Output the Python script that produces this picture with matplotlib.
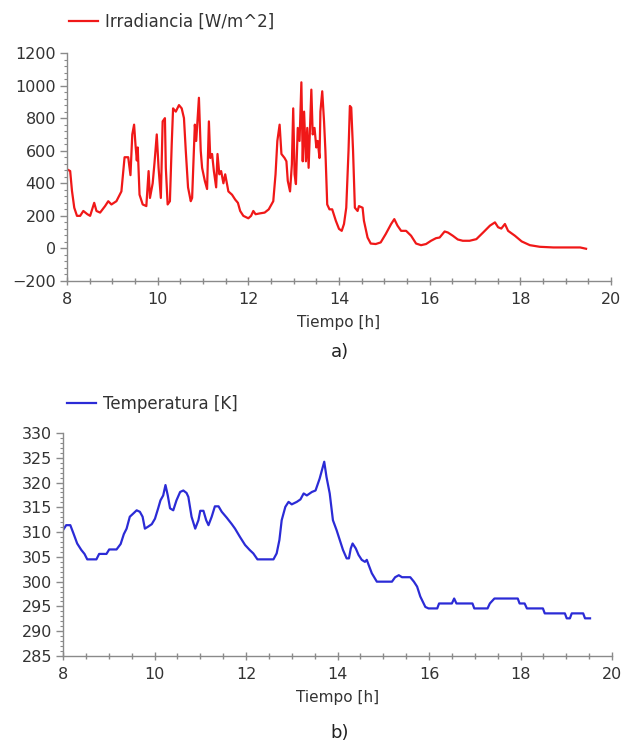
import matplotlib
matplotlib.use("Agg")
import matplotlib.pyplot as plt
from matplotlib.ticker import MultipleLocator

# ---- data ----
irr_t = [8.0, 8.07, 8.11, 8.16, 8.22, 8.29, 8.36, 8.45, 8.51, 8.6, 8.65, 8.73, 8.84, 8.91, 8.98,
         9.09, 9.2, 9.27, 9.35, 9.4, 9.44, 9.48, 9.51, 9.54, 9.56, 9.6, 9.67, 9.75, 9.8, 9.83,
         9.89, 9.93, 9.98, 10.02, 10.07, 10.11, 10.16, 10.18, 10.22, 10.27, 10.31, 10.34, 10.4,
         10.47, 10.53, 10.58, 10.62, 10.67, 10.73, 10.76, 10.82, 10.85, 10.91, 10.95, 10.98,
         11.04, 11.09, 11.13, 11.16, 11.2, 11.24, 11.29, 11.32, 11.36, 11.4, 11.45, 11.49,
         11.56, 11.64, 11.71, 11.77, 11.82, 11.89, 12.0, 12.06, 12.11, 12.16, 12.25, 12.36,
         12.45, 12.55, 12.6, 12.64, 12.69, 12.73, 12.8, 12.84, 12.87, 12.92, 12.96, 12.99,
         13.02, 13.05, 13.09, 13.13, 13.17, 13.2, 13.23, 13.27, 13.3, 13.33, 13.39, 13.42,
         13.46, 13.5, 13.53, 13.57, 13.59, 13.63, 13.67, 13.7, 13.74, 13.79, 13.85, 13.93,
         14.0, 14.06, 14.11, 14.16, 14.21, 14.24, 14.27, 14.31, 14.35, 14.41, 14.44, 14.52,
         14.55, 14.63, 14.7, 14.81, 14.92, 15.03, 15.15, 15.22, 15.29, 15.37, 15.48, 15.59,
         15.7, 15.81, 15.92, 16.03, 16.14, 16.22, 16.33, 16.4, 16.51, 16.62, 16.73, 16.88,
         17.03, 17.18, 17.33, 17.44, 17.51, 17.58, 17.66, 17.73, 17.88, 18.03, 18.21, 18.43,
         18.73, 19.02, 19.32, 19.45]
irr_v = [486, 475, 353, 250, 200, 200, 230, 210, 200, 280, 230, 220, 260, 290, 270,
         290, 350, 560, 560, 450, 700, 760, 640, 540, 620, 330, 270, 260, 475, 310,
         400, 525, 700, 495, 310, 780, 800, 495, 270, 290, 640, 860, 840,
         880, 860, 800, 600, 375, 290, 310, 760, 660, 925, 600, 495,
         415, 365, 780, 555, 580, 475, 375, 580, 455, 475, 400, 455,
         350, 330, 300, 280, 230, 200, 185, 200, 230, 210, 215, 220,
         240, 290, 455, 660, 760, 580, 555, 535, 415, 350, 515, 860,
         455, 395, 740, 660, 1020, 535, 840, 535, 740, 495, 975, 700,
         740, 620, 660, 555, 840, 965, 780, 600, 270, 240, 240, 170,
         120, 108, 150, 250, 600, 875, 865, 600, 250, 230, 260, 250,
         170, 67, 30, 27, 37, 88, 150, 180, 140, 108, 108, 78,
         30, 20, 27, 47, 63, 67, 104, 98, 78, 55, 47, 47,
         57, 98, 140, 160, 130, 122, 150, 108, 78, 43, 20, 10,
         6, 6, 6, -2]

temp_t = [8.0, 8.07, 8.16, 8.23, 8.31, 8.4, 8.47, 8.53, 8.73, 8.79, 8.95, 9.01, 9.17, 9.26,
          9.33, 9.39, 9.46, 9.53, 9.61, 9.68, 9.74, 9.79, 9.86, 9.94, 10.01, 10.08, 10.13,
          10.19, 10.24, 10.29, 10.34, 10.41, 10.48, 10.56, 10.63, 10.7, 10.74, 10.81, 10.89,
          10.96, 11.0, 11.07, 11.13, 11.18, 11.25, 11.32, 11.4, 11.47, 11.58, 11.69, 11.76,
          11.87, 11.98, 12.08, 12.16, 12.25, 12.6, 12.67, 12.73, 12.78, 12.86, 12.93, 13.0,
          13.11, 13.19, 13.26, 13.33, 13.44, 13.52, 13.61, 13.66, 13.71, 13.76, 13.83, 13.9,
          13.98, 14.05, 14.12, 14.2, 14.25, 14.29, 14.33, 14.4, 14.46, 14.53, 14.6, 14.64,
          14.68, 14.75, 14.86, 15.19, 15.26, 15.34, 15.41, 15.59, 15.67, 15.74, 15.81, 15.92,
          15.99, 16.18, 16.22, 16.5, 16.55, 16.6, 16.95, 16.99, 17.28, 17.33, 17.43, 17.94,
          17.98, 18.09, 18.14, 18.49, 18.53, 18.97, 19.01, 19.08, 19.12, 19.37, 19.41, 19.52]
temp_v = [310.4, 311.4, 311.4, 309.7, 307.7, 306.4, 305.6, 304.5, 304.5, 305.6, 305.6, 306.5,
          306.5, 307.6, 309.6, 310.7, 313.1, 313.7, 314.4, 314.1, 313.1, 310.7, 311.1, 311.6,
          312.7, 314.8, 316.4, 317.4, 319.5, 317.4, 314.8, 314.4, 316.4, 318.1, 318.4, 317.9,
          317.1, 313.1, 310.7, 312.4, 314.3, 314.3, 312.4, 311.4, 313.1, 315.2, 315.2, 314.1,
          312.9, 311.6, 310.7, 309.0, 307.4, 306.4, 305.7, 304.5, 304.5, 305.7, 308.4, 312.4,
          315.1, 316.1, 315.6, 316.1, 316.6, 317.8, 317.4, 318.1, 318.4, 320.8, 322.5, 324.2,
          321.1, 317.8, 312.4, 310.4, 308.4, 306.4, 304.7, 304.7, 306.7, 307.7, 306.7, 305.4,
          304.4, 304.0, 304.4, 303.4, 301.7, 300.0, 300.0, 300.9, 301.3, 300.9, 300.9, 300.0,
          299.0, 297.0, 294.9, 294.6, 294.6, 295.6, 295.6, 296.6, 295.6, 295.6, 294.6, 294.6,
          295.6, 296.6, 296.6, 295.6, 295.6, 294.6, 294.6, 293.6, 293.6, 292.6, 292.6, 293.6,
          293.6, 292.6, 292.6]

irr_label = "Irradiancia [W/m^2]"
temp_label = "Temperatura [K]"
xlabel = "Tiempo [h]"
irr_yticks = [-200, 0, 200, 400, 600, 800, 1000, 1200]
temp_yticks = [285, 290, 295, 300, 305, 310, 315, 320, 325, 330]
xticks = [8, 10, 12, 14, 16, 18, 20]

# ---- styling ----
plt.rcParams['font.family'] = ['DejaVu Sans']
W, H = 623, 749
fig = plt.figure(figsize=(W / 100, H / 100), dpi=100)
txt = '#333333'
spine_c = '#8a8a8a'

def style(ax, ymin, ymax, yminor):
    ax.set_xlim(8, 20)
    ax.set_ylim(ymin, ymax)
    for s in ('top', 'right'):
        ax.spines[s].set_visible(False)
    for s in ('left', 'bottom'):
        ax.spines[s].set_color(spine_c)
        ax.spines[s].set_linewidth(1.0)
    ax.set_xticks(xticks)
    ax.xaxis.set_minor_locator(MultipleLocator(0.5))
    ax.yaxis.set_minor_locator(MultipleLocator(yminor))
    ax.tick_params(axis='x', which='major', direction='inout', length=6, width=1,
                   color=spine_c, labelsize=11.5, labelcolor=txt, pad=5)
    ax.tick_params(axis='x', which='minor', direction='inout', length=5, width=1,
                   color=spine_c)
    ax.tick_params(axis='y', which='major', direction='out', length=5, width=1,
                   color=spine_c, labelsize=11.5, labelcolor=txt, pad=3)
    ax.tick_params(axis='y', which='minor', direction='out', length=2.5, width=0.8,
                   color=spine_c)
    ax.set_xlabel(xlabel, fontsize=11, color=txt, labelpad=6)

ax1 = fig.add_axes([67 / W, 1 - 281 / H, (611 - 67) / W, (281 - 53) / H])
ax1.plot(irr_t, irr_v, color='#f01818', lw=1.6, label=irr_label)
style(ax1, -200, 1200, 40)
ax1.set_yticks(irr_yticks)
ax1.legend(loc='center left', bbox_to_anchor=(0.004, 1.136), frameon=False,
           fontsize=12, handlelength=1.75, handletextpad=0.4, borderpad=0,
           borderaxespad=0, labelcolor=txt)

ax2 = fig.add_axes([63 / W, 1 - 656 / H, (612 - 63) / W, (656 - 433) / H])
ax2.plot(temp_t, temp_v, color='#2b2bd6', lw=1.6, label=temp_label)
style(ax2, 285, 330, 1)
ax2.set_yticks(temp_yticks)
ax2.legend(loc='center left', bbox_to_anchor=(0.007, 1.13), frameon=False,
           fontsize=12, handlelength=1.75, handletextpad=0.4, borderpad=0,
           borderaxespad=0, labelcolor=txt)

fig.text(340 / W, 1 - 352 / H, "a)", ha='center', va='center', fontsize=13, color='#222222')
fig.text(340 / W, 1 - 733 / H, "b)", ha='center', va='center', fontsize=13, color='#222222')

fig.savefig("out.png", dpi=100)
